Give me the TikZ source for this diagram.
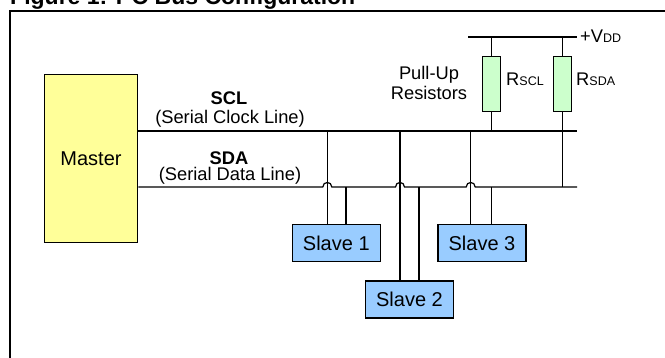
\documentclass[tikz,border=0pt]{standalone}
\usepackage{fontspec}
\setmainfont{Liberation Sans}
\definecolor{masterfill}{HTML}{FFFF99}
\definecolor{slavefill}{HTML}{99CCFF}
\definecolor{resfill}{HTML}{CCFFCC}
\begin{document}
\begin{tikzpicture}[x=1pt,y=-1pt,
  lbl/.style={inner sep=0pt, font=\fontsize{18.3}{22}\selectfont},
  lblb/.style={inner sep=0pt, font=\fontsize{18.3}{22}\selectfont\bfseries},
  box/.style={draw, line width=1.5pt, inner sep=0pt, font=\fontsize{20}{24}\selectfont},
  slavebox/.style={box, fill=slavefill, minimum width=88pt, minimum height=37pt},
  resbox/.style={draw, line width=1.5pt, fill=resfill, inner sep=0pt, minimum width=18pt, minimum height=55pt},
  wire/.style={line width=1.2pt},
  frameline/.style={line width=2.5pt}]
\useasboundingbox (0,0) rectangle (665,358);
\clip (0,0) rectangle (665,358);

% title (cut off at top)
\node[anchor=base west, inner sep=0pt, font=\fontsize{23}{27}\selectfont\bfseries] (title) at (10,4.5) {Figure 1: I\textsuperscript{2}C Bus Configuration};

% frame
\draw[frameline] (10,370) -- (10,11) -- (680,11);

% boxes
\node[box, fill=masterfill, minimum width=93pt, minimum height=168pt] (master) at (91,158.5) {Master};
\node[slavebox] (s1) at (336.3,243) {Slave 1};
\node[slavebox] (s2) at (409.5,299.5) {Slave 2};
\node[slavebox] (s3) at (482,243) {Slave 3};
\node[resbox] (rscl) at (491.7,84) {};
\node[resbox] (rsda) at (562.3,84) {};

% bus coordinates
\coordinate (sclR) at (577,131);
\coordinate (sdaR) at (577,187);
\coordinate (vddL) at (468,37);
\coordinate (vddR) at (577,37);
\coordinate (sclL) at (master.east |- sclR);
\coordinate (sdaL) at (master.east |- sdaR);
\coordinate (h1) at (327.3,187);
\coordinate (h2) at (400,187);
\coordinate (h3) at (470.7,187);
\coordinate (c1) at (327.3,131);
\coordinate (c2) at (400,131);
\coordinate (c3) at (470.7,131);
\coordinate (d1) at (346,187);
\coordinate (d2) at (419,187);
\coordinate (d3) at (491.7,187);

% buses
\draw[wire] (sclL) -- (sclR);
\draw[wire] (sdaL) -- ([xshift=-4.5pt]h1) .. controls +(0,-6) and +(0,-6) .. ([xshift=4.5pt]h1)
  -- ([xshift=-4.5pt]h2) .. controls +(0,-6) and +(0,-6) .. ([xshift=4.5pt]h2)
  -- ([xshift=-4.5pt]h3) .. controls +(0,-6) and +(0,-6) .. ([xshift=4.5pt]h3)
  -- (sdaR);
\draw[wire] (vddL) -- (vddR);

% slave drops
\draw[wire] (c1) -- (c1 |- s1.north);
\draw[wire] (d1) -- (d1 |- s1.north);
\draw[wire] (c2) -- (c2 |- s2.north);
\draw[wire] (d2) -- (d2 |- s2.north);
\draw[wire] (c3) -- (c3 |- s3.north);
\draw[wire] (d3) -- (d3 |- s3.north);

% pull-ups
\draw[wire] (rscl.north |- vddR) -- (rscl.north);
\draw[wire] (rscl.south) -- (rscl.south |- sclR);
\draw[wire] (rsda.north |- vddR) -- (rsda.north);
\draw[wire] (rsda.south) -- (rsda.south |- sdaR);

% labels
\node[lblb, anchor=base] (scllbl) at (229,105) {SCL};
\node[lbl, anchor=base] (scldesc) at (230,123.5) {(Serial Clock Line)};
\node[lblb, anchor=base] (sdalbl) at (229,164.3) {SDA};
\node[lbl, anchor=base] (sdadesc) at (230,180.5) {(Serial Data Line)};
\node[lbl, anchor=base] (pull) at (429,79.5) {Pull-Up};
\node[lbl, anchor=base] (resist) at (429,100) {Resistors};
\node[lbl, anchor=base west] (rscllbl) at (506,86) {R{\fontsize{12.5}{14}\selectfont SCL}};
\node[lbl, anchor=base west] (rsdalbl) at (576,86) {R{\fontsize{12.5}{14}\selectfont SDA}};
\node[lbl, anchor=base west] (vdd) at (580,42.7) {+V{\fontsize{12.5}{14}\selectfont DD}};
\end{tikzpicture}
\end{document}
